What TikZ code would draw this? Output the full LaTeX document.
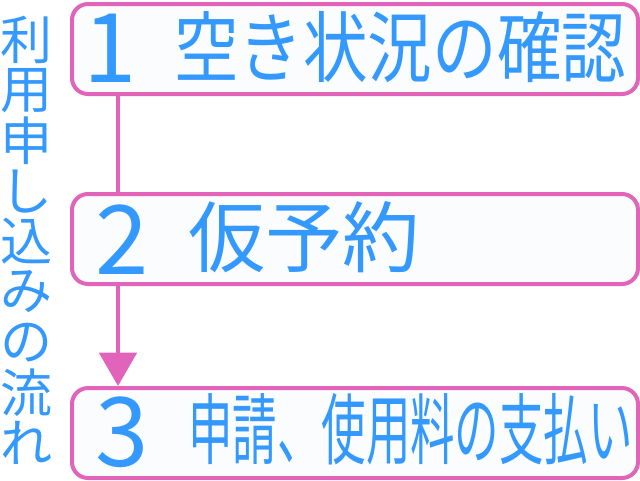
\documentclass[tikz,border=0pt]{standalone}
\usepackage{fontspec}
\setmainfont{Noto Sans CJK JP}
\usetikzlibrary{arrows.meta,positioning}
\definecolor{flowpink}{RGB}{226,100,186}
\definecolor{flowblue}{RGB}{51,153,255}
\definecolor{boxfill}{RGB}{251,252,253}

\begin{document}
\begin{tikzpicture}[x=0.75pt,y=-0.75pt,
    stepbox/.style={draw=flowpink,line width=3pt,fill=boxfill,rounded corners=12pt,
      minimum width=424.5pt,minimum height=67.5pt,inner sep=0pt,anchor=north west},
    num/.style={color=flowblue,font=\fontsize{72}{80}\selectfont,inner sep=0pt,
      text height=0.75em,text depth=0pt,anchor=base},
    label/.style={color=flowblue,font=\fontsize{58}{70}\selectfont,inner sep=0pt,
      text height=0.8em,text depth=0.1em,anchor=base west},
    flow/.style={draw=flowpink,line width=3pt}]
  \useasboundingbox (0,0) rectangle (640,480);
  % Boxes
  \node[stepbox] (box1) at (70,2) {};
  \node[stepbox] (box2) at (70,192) {};
  \node[stepbox] (box3) at (70,386) {};
  % Numbers and texts
  \node[num] (num1) at (110,82) {1};
  \node[num] (num2) at (122,274) {2};
  \node[num] (num3) at (122,466) {3};
  \node[label,xscale=0.835] (txt1) at (174,76) {空き状況の確認};
  \node[label] (txt2) at (188,266) {仮予約};
  \node[label,xscale=0.575] (txt3) at (188,458) {申請、使用料の支払い};
  % Side title
  \foreach \ch [count=\i] in {利,用,申,し,込,み,の,流,れ}{
    \node[color=flowblue,font=\fontsize{39}{42}\selectfont,inner sep=0pt]
      (side\i) at (26,{40+(\i-1)*50.4}) {\ch};
  }
  % Connectors
  \coordinate (spine) at (118,0);
  \draw[flow] (box1.south -| spine) -- (box2.north -| spine);
  \draw[flow,-{Triangle[width=28pt,length=25pt]}] (box2.south -| spine) -- (box3.north -| spine);
\end{tikzpicture}
\end{document}
